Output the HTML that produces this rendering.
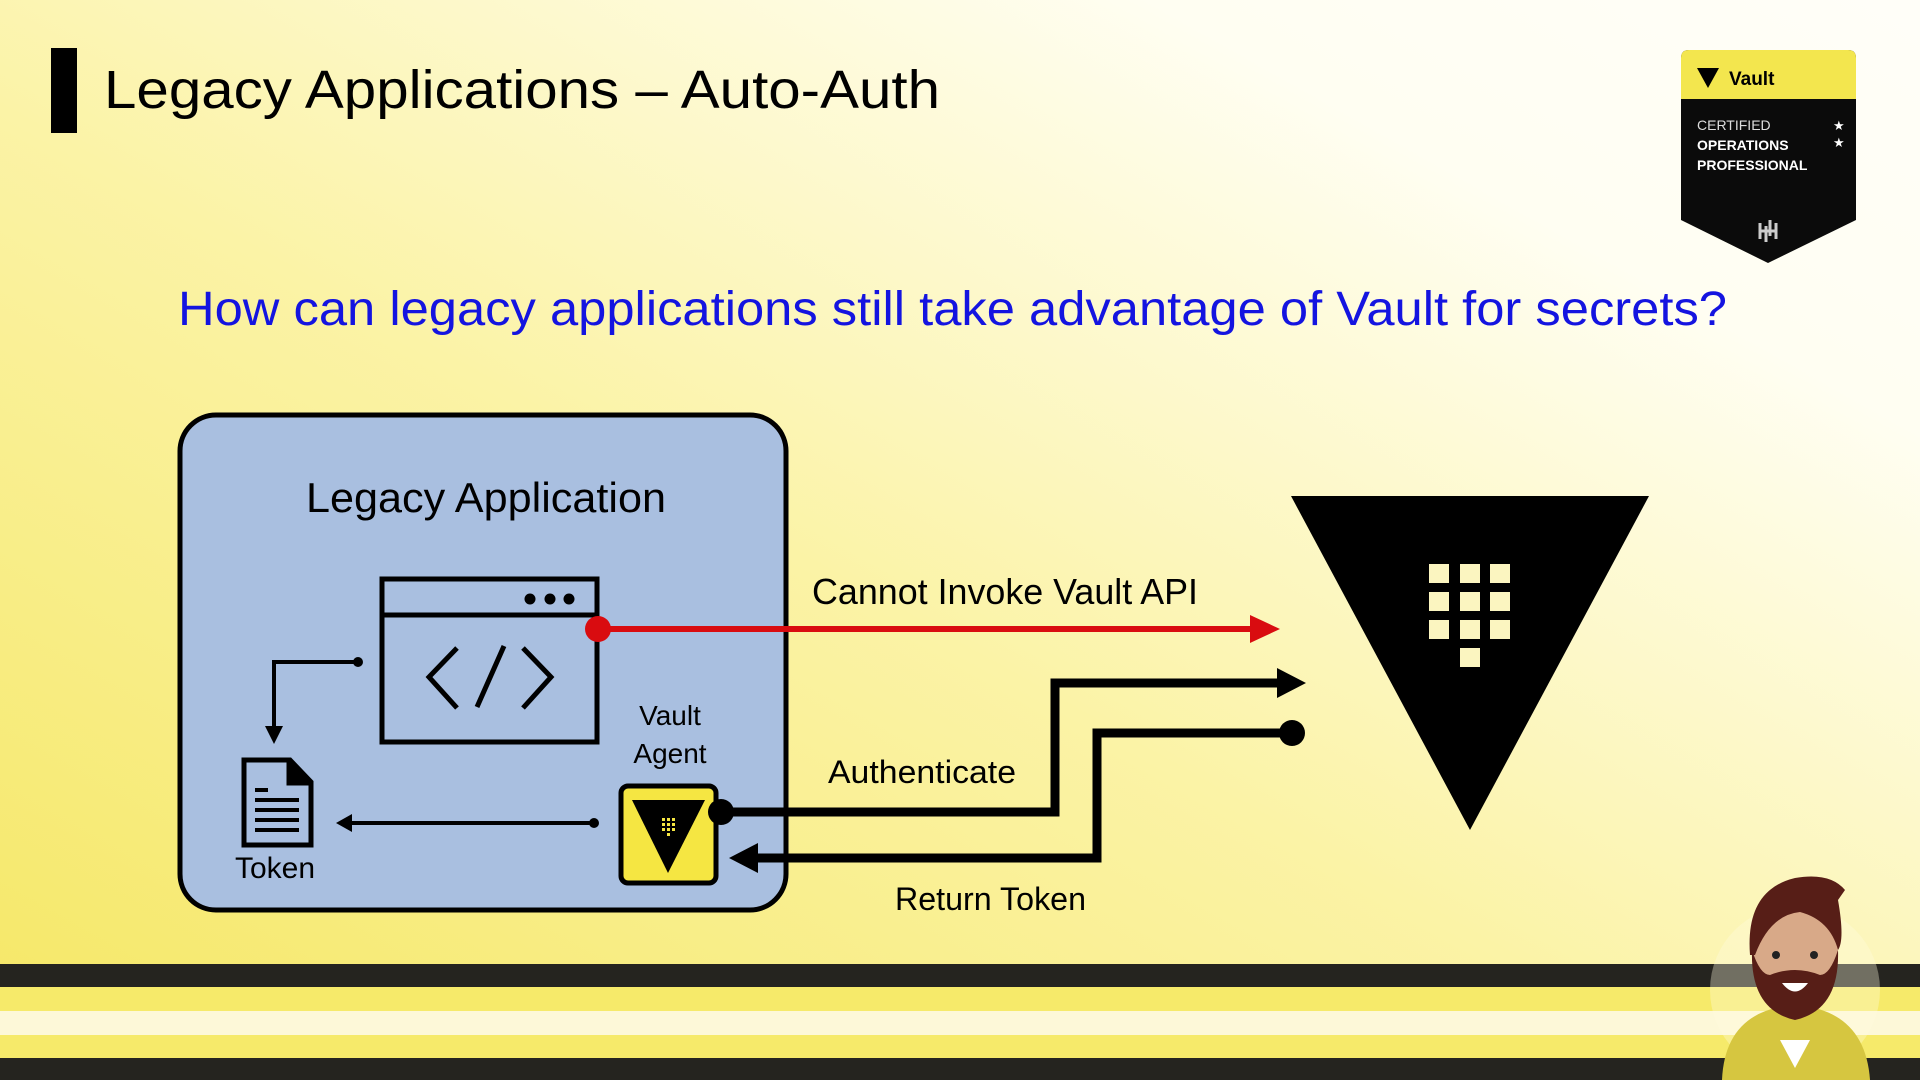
<!DOCTYPE html>
<html><head><meta charset="utf-8"><style>
html,body{margin:0;padding:0;width:1920px;height:1080px;overflow:hidden}
svg{display:block}
text{font-family:"Liberation Sans",sans-serif}
</style></head><body>
<svg width="1920" height="1080" viewBox="0 0 1920 1080" xmlns="http://www.w3.org/2000/svg">
<defs>
<linearGradient id="bg" x1="0" y1="1" x2="1" y2="0">
<stop offset="0" stop-color="#f5e763"/>
<stop offset="0.45" stop-color="#fbf3a6"/>
<stop offset="0.8" stop-color="#fffef2"/>
<stop offset="1" stop-color="#fffef8"/>
</linearGradient>
</defs>
<rect width="1920" height="1080" fill="url(#bg)"/>
<rect x="0" y="964" width="1920" height="23" fill="#25241f"/>
<rect x="0" y="987" width="1920" height="24" fill="#f6ea6a"/>
<rect x="0" y="1011" width="1920" height="24" fill="#fdf8d8"/>
<rect x="0" y="1035" width="1920" height="23" fill="#f6ea6a"/>
<rect x="0" y="1058" width="1920" height="22" fill="#25241f"/>

<rect x="51" y="48" width="26" height="85" fill="#000"/>
<text x="104" y="108" font-size="54" fill="#000" textLength="836" lengthAdjust="spacingAndGlyphs">Legacy Applications – Auto-Auth</text>
<text x="178" y="325" font-size="48" fill="#1414e0" textLength="1549" lengthAdjust="spacingAndGlyphs">How can legacy applications still take advantage of Vault for secrets?</text>

<path d="M1681 58 Q1681 50 1689 50 L1848 50 Q1856 50 1856 58 L1856 220 L1768 263 L1681 220 Z" fill="#0b0b0b"/>
<path d="M1681 58 Q1681 50 1689 50 L1848 50 Q1856 50 1856 58 L1856 99 L1681 99 Z" fill="#f3e64e"/>
<path d="M1697 68 L1719 68 L1708 88 Z" fill="#000"/>
<text x="1729" y="85" font-size="19" font-weight="bold" fill="#000">Vault</text>
<text x="1697" y="130" font-size="14" fill="#ddd">CERTIFIED</text>
<text x="1697" y="150" font-size="14" font-weight="bold" fill="#fff">OPERATIONS</text>
<text x="1697" y="170" font-size="14" font-weight="bold" fill="#fff">PROFESSIONAL</text>
<text x="1833" y="130" font-size="13" fill="#fff">★</text>
<text x="1833" y="147" font-size="13" fill="#fff">★</text>
<path d="M1760 223 L1760 239 M1776 223 L1776 239 M1760 231 L1776 231 M1766 226 L1766 242 M1770 220 L1770 236" stroke="#ccc" stroke-width="3" fill="none"/>

<rect x="180" y="415" width="606" height="495" rx="36" fill="#a9bfe0" stroke="#000" stroke-width="5"/>
<text x="486" y="512" font-size="42" fill="#000" text-anchor="middle" textLength="360" lengthAdjust="spacingAndGlyphs">Legacy Application</text>
<rect x="382" y="579" width="215" height="163" fill="none" stroke="#000" stroke-width="5"/>
<line x1="382" y1="615" x2="597" y2="615" stroke="#000" stroke-width="5"/>
<circle cx="530" cy="599" r="5.5" fill="#000"/><circle cx="550" cy="599" r="5.5" fill="#000"/><circle cx="569" cy="599" r="5.5" fill="#000"/>
<path d="M457 648 L429 677 L457 708 M523 648 L551 677 L523 708 M504 646 L477 707" stroke="#000" stroke-width="5" fill="none"/>
<line x1="598" y1="629" x2="1252" y2="629" stroke="#d90c10" stroke-width="6"/>
<path d="M1250 615 L1280 629 L1250 643 Z" fill="#d90c10"/>
<circle cx="598" cy="629" r="13" fill="#d90c10"/>
<text x="812" y="604" font-size="36" fill="#000" textLength="386" lengthAdjust="spacingAndGlyphs">Cannot Invoke Vault API</text>
<path d="M358 662 L274 662 L274 728" stroke="#000" stroke-width="4" fill="none"/>
<circle cx="358" cy="662" r="5" fill="#000"/>
<path d="M265 726 L274 744 L283 726 Z" fill="#000"/>
<path d="M244 760 L290 760 L311 782 L311 845 L244 845 Z" fill="none" stroke="#000" stroke-width="5"/>
<path d="M288 760 L288 784 L311 784" fill="#000" stroke="#000" stroke-width="3"/>
<path d="M255 790 L268 790 M255 800 L299 800 M255 810 L299 810 M255 820 L299 820 M255 830 L299 830" stroke="#000" stroke-width="4"/>
<text x="275" y="878" font-size="30" fill="#000" text-anchor="middle">Token</text>
<line x1="594" y1="823" x2="350" y2="823" stroke="#000" stroke-width="4"/>
<circle cx="594" cy="823" r="5" fill="#000"/>
<path d="M352 814 L336 823 L352 832 Z" fill="#000"/>
<text x="670" y="725" font-size="28" fill="#000" text-anchor="middle">Vault</text>
<text x="670" y="763" font-size="28" fill="#000" text-anchor="middle">Agent</text>
<rect x="621" y="786" width="95" height="97" rx="7" fill="#f5e642" stroke="#000" stroke-width="5"/>
<path d="M632 800 L705 800 L668 873 Z" fill="#000"/>
<g fill="#f5e642"><rect x="662" y="818" width="3" height="3"/><rect x="667" y="818" width="3" height="3"/><rect x="672" y="818" width="3" height="3"/><rect x="662" y="823" width="3" height="3"/><rect x="667" y="823" width="3" height="3"/><rect x="672" y="823" width="3" height="3"/><rect x="662" y="828" width="3" height="3"/><rect x="667" y="828" width="3" height="3"/><rect x="672" y="828" width="3" height="3"/><rect x="667" y="833" width="3" height="3"/></g>
<path d="M721 812 L1055 812 L1055 683 L1280 683" stroke="#000" stroke-width="9" fill="none"/>
<path d="M1277 668 L1306 683 L1277 698 Z" fill="#000"/>
<circle cx="721" cy="812" r="13" fill="#000"/>
<text x="828" y="783" font-size="32" fill="#000" textLength="188" lengthAdjust="spacingAndGlyphs">Authenticate</text>
<path d="M1292 733 L1097 733 L1097 858 L755 858" stroke="#000" stroke-width="9" fill="none"/>
<path d="M758 843 L729 858 L758 873 Z" fill="#000"/>
<circle cx="1292" cy="733" r="13" fill="#000"/>
<text x="895" y="910" font-size="32" fill="#000" textLength="191" lengthAdjust="spacingAndGlyphs">Return Token</text>
<path d="M1291 496 L1649 496 L1470 830 Z" fill="#000"/>
<g fill="#fbf5c0">
<rect x="1429" y="564" width="20" height="19"/><rect x="1460" y="564" width="20" height="19"/><rect x="1490" y="564" width="20" height="19"/>
<rect x="1429" y="592" width="20" height="19"/><rect x="1460" y="592" width="20" height="19"/><rect x="1490" y="592" width="20" height="19"/>
<rect x="1429" y="620" width="20" height="19"/><rect x="1460" y="620" width="20" height="19"/><rect x="1490" y="620" width="20" height="19"/>
<rect x="1460" y="648" width="20" height="19"/>
</g>
<g>
<ellipse cx="1795" cy="990" rx="85" ry="85" fill="#fffbe0" opacity="0.35"/>
<path d="M1722 1080 Q1725 1010 1795 1005 Q1865 1010 1870 1080 Z" fill="#d6c640"/>
<path d="M1780 1040 L1810 1040 L1795 1068 Z" fill="#fff"/>
<rect x="1780" y="990" width="30" height="25" fill="#d8a988"/>
<ellipse cx="1795" cy="955" rx="43" ry="55" fill="#d8a988"/>
<path d="M1752 950 Q1750 1010 1795 1020 Q1840 1010 1838 950 Q1830 975 1820 975 Q1795 965 1770 975 Q1760 975 1752 950 Z" fill="#571e17"/>
<path d="M1750 955 Q1745 890 1795 878 Q1830 872 1845 890 L1838 900 Q1845 940 1838 950 Q1830 920 1800 912 Q1770 915 1755 955 Z" fill="#571e17"/>
<circle cx="1776" cy="955" r="4" fill="#222"/><circle cx="1814" cy="955" r="4" fill="#222"/>
<path d="M1782 983 Q1795 1000 1808 983 Z" fill="#fff"/>
</g>
</svg>
</body></html>
